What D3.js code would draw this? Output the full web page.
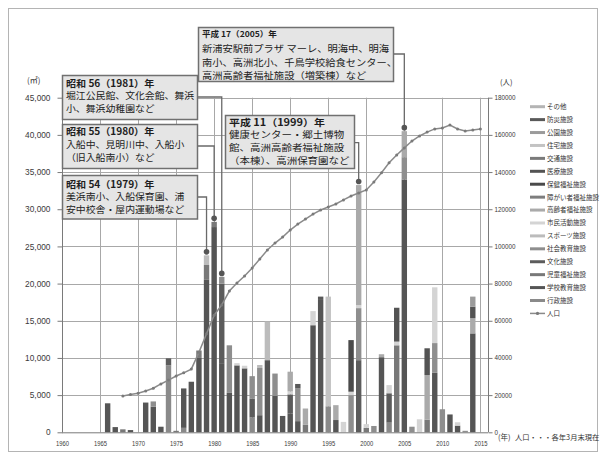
<!DOCTYPE html>
<html lang="ja">
<head>
<meta charset="utf-8">
<script src="https://cdn.jsdelivr.net/npm/d3@7"></script>
<style>
  html, body { margin: 0; padding: 0; background: #fff; }
  svg { display: block; }
  .jp { font-family: "Noto Sans CJK JP", "Noto Sans", sans-serif; }
  .num { font-family: "Liberation Sans", Arial, sans-serif; }
</style>
</head>
<body>
<svg id="chart" width="606" height="459"></svg>
<script>
// 公共施設の年度別整備延床面積（㎡）と人口の推移

const years = [
  1965, 1966, 1967, 1968, 1969, 1970, 1971, 1972, 1973, 1974,
  1975, 1976, 1977, 1978, 1979, 1980, 1981, 1982, 1983, 1984,
  1985, 1986, 1987, 1988, 1989, 1990, 1991, 1992, 1993, 1994,
  1995, 1996, 1997, 1998, 1999, 2000, 2001, 2002, 2003, 2004,
  2005, 2006, 2007, 2008, 2009, 2010, 2011, 2012, 2013, 2014
];

// 施設分類（積み上げの下から順）
const categories = [
  "行政施設", "学校教育施設", "児童福祉施設", "文化施設", "社会教育施設",
  "スポーツ施設", "市民活動施設", "高齢者福祉施設", "障がい者福祉施設",
  "保健福祉施設", "医療施設", "交通施設", "住宅施設", "公園施設", "防災施設", "その他"
];

const gyosei = [
  0, 0, 0, 0, 0, 0, 0, 0, 0, 9000,
  0, 600, 0, 0, 0, 0, 0, 0, 0, 0,
  2000, 0, 0, 0, 0, 0, 0, 0, 0, 0,
  3500, 0, 0, 0, 0, 0, 0, 0, 1300, 0,
  0, 0, 0, 0, 0, 0, 0, 0, 0, 0
];
const gakko = [
  0, 3900, 700, 0, 300, 0, 4000, 3450, 750, 0,
  0, 5300, 6800, 10000, 20500, 27600, 9300, 5300, 9000, 8600,
  0, 2300, 9700, 4900, 2200, 2500, 1500, 0, 14400, 17800,
  0, 1650, 0, 0, 0, 0, 0, 10100, 0, 0,
  34000, 0, 0, 0, 8000, 0, 2400, 900, 0, 13300
];
const jido = [
  0, 0, 0, 400, 0, 0, 0, 0, 0, 0,
  200, 0, 0, 1000, 2000, 700, 0, 0, 0, 0,
  0, 0, 0, 0, 0, 0, 0, 1000, 0, 0,
  0, 0, 0, 0, 0, 600, 0, 0, 0, 11700,
  0, 0, 0, 1700, 0, 0, 0, 0, 0, 0
];
const bunka = [
  0, 0, 0, 0, 0, 0, 0, 0, 0, 950,
  0, 0, 0, 0, 0, 0, 10700, 0, 0, 0,
  2500, 0, 0, 0, 0, 2600, 0, 0, 0, 0,
  0, 0, 0, 0, 9700, 0, 0, 0, 3950, 0,
  0, 0, 0, 0, 0, 0, 0, 0, 0, 0
];
const shakaiKyoiku = [
  0, 0, 0, 0, 0, 0, 0, 700, 0, 0,
  0, 0, 0, 0, 0, 0, 900, 6400, 0, 0,
  3050, 6350, 0, 3000, 0, 0, 4400, 0, 0, 0,
  0, 0, 0, 5000, 7000, 0, 850, 0, 0, 0,
  3000, 750, 0, 0, 4000, 3100, 0, 0, 200, 0
];
const sports = [
  0, 0, 0, 0, 0, 0, 0, 0, 0, 0,
  0, 0, 0, 0, 1300, 0, 0, 0, 0, 0,
  0, 400, 5200, 0, 0, 0, 0, 0, 0, 0,
  0, 0, 0, 0, 0, 0, 0, 0, 0, 0,
  0, 0, 0, 0, 0, 0, 0, 0, 0, 0
];
const shimin = [
  0, 0, 0, 0, 0, 0, 0, 0, 0, 0,
  0, 0, 0, 0, 0, 0, 0, 0, 300, 350,
  0, 0, 0, 0, 0, 400, 0, 0, 1900, 0,
  0, 0, 1400, 460, 400, 500, 0, 0, 1100, 500,
  0, 0, 1750, 0, 7500, 0, 0, 450, 0, 0
];
const koreisha = [
  0, 0, 0, 0, 0, 0, 0, 0, 0, 0,
  0, 0, 0, 0, 0, 0, 0, 0, 0, 0,
  0, 0, 0, 0, 0, 2650, 0, 2200, 0, 0,
  0, 2000, 0, 0, 16150, 0, 0, 400, 0, 0,
  3500, 0, 0, 6000, 0, 0, 0, 0, 0, 2050
];
const shogaisha = [
  0, 0, 0, 0, 0, 0, 0, 0, 0, 0,
  0, 0, 0, 0, 0, 0, 0, 0, 0, 0,
  0, 0, 0, 0, 0, 0, 0, 0, 0, 0,
  0, 0, 0, 0, 0, 0, 0, 0, 0, 0,
  0, 0, 0, 0, 0, 0, 0, 0, 0, 0
];
const hoken = [
  0, 0, 0, 0, 0, 0, 0, 0, 0, 0,
  0, 0, 0, 0, 0, 0, 0, 0, 0, 0,
  0, 0, 0, 0, 0, 0, 0, 0, 0, 0,
  0, 0, 0, 6940, 0, 0, 0, 0, 0, 0,
  0, 0, 0, 0, 0, 0, 0, 0, 0, 0
];
const iryo = [
  0, 0, 0, 0, 0, 0, 0, 0, 0, 0,
  0, 0, 0, 0, 0, 0, 0, 0, 0, 0,
  0, 0, 0, 0, 0, 0, 0, 0, 0, 0,
  0, 0, 0, 0, 0, 0, 0, 0, 0, 4550,
  0, 0, 0, 3600, 0, 0, 0, 0, 0, 1550
];
const kotsu = [
  0, 0, 0, 0, 0, 0, 0, 0, 0, 0,
  0, 0, 0, 0, 0, 0, 0, 0, 0, 0,
  0, 0, 0, 0, 0, 0, 0, 0, 0, 0,
  0, 0, 0, 0, 0, 0, 0, 0, 0, 0,
  0, 0, 0, 0, 0, 0, 0, 0, 0, 0
];
const jutaku = [
  0, 0, 0, 0, 0, 0, 0, 0, 0, 0,
  0, 0, 0, 0, 0, 0, 0, 0, 0, 0,
  0, 0, 0, 0, 0, 0, 0, 0, 0, 0,
  14750, 0, 0, 0, 0, 0, 0, 0, 0, 0,
  0, 0, 0, 0, 0, 0, 0, 0, 0, 0
];
const koen = [
  0, 0, 0, 0, 0, 0, 0, 0, 0, 0,
  0, 0, 0, 0, 0, 0, 0, 0, 0, 0,
  0, 0, 0, 0, 0, 0, 0, 0, 0, 0,
  0, 0, 0, 0, 0, 0, 0, 0, 0, 0,
  0, 0, 0, 0, 0, 0, 0, 0, 0, 1350
];
const bosai = [
  0, 0, 0, 0, 0, 0, 0, 0, 0, 0,
  0, 0, 0, 0, 0, 0, 0, 0, 0, 0,
  0, 0, 0, 0, 0, 0, 600, 0, 0, 450,
  0, 0, 0, 0, 0, 0, 0, 0, 0, 0,
  0, 0, 0, 0, 0, 0, 0, 0, 0, 0
];
const sonota = [
  0, 0, 0, 0, 0, 0, 0, 0, 0, 0,
  0, 0, 0, 0, 0, 0, 0, 0, 0, 0,
  0, 0, 0, 0, 0, 0, 0, 0, 0, 0,
  0, 0, 0, 0, 0, 0, 0, 0, 0, 0,
  0, 0, 0, 0, 0, 0, 0, 0, 0, 0
];

const seriesValues = [
  gyosei, gakko, jido, bunka, shakaiKyoiku, sports, shimin, koreisha,
  shogaisha, hoken, iryo, kotsu, jutaku, koen, bosai, sonota
];

const seriesColors = [
  "#8a8a8a", "#555555", "#787878", "#5c5c5c", "#8e8e8e", "#bcbcbc", "#d4d4d4", "#aaaaaa",
  "#7e7e7e", "#4a4a4a", "#535353", "#7a7a7a", "#c3c3c3", "#9b9b9b", "#595959", "#b4b4b4"
];

// 人口（各年3月末現在）
const popYears = [
  1968, 1969, 1970, 1971, 1972, 1973, 1974, 1975, 1976, 1977,
  1978, 1979, 1980, 1981, 1982, 1983, 1984, 1985, 1986, 1987,
  1988, 1989, 1990, 1991, 1992, 1993, 1994, 1995, 1996, 1997,
  1998, 1999, 2000, 2001, 2002, 2003, 2004, 2005, 2006, 2007,
  2008, 2009, 2010, 2011, 2012, 2013, 2014, 2015
];
const population = [
  19500, 20300, 21000, 22200, 23700, 26000, 28100, 30300, 32000, 34000,
  43000, 53000, 63000, 68500, 76000, 80300, 84100, 88400, 93200, 98100,
  101800, 105000, 108800, 112000, 114700, 117400, 119600, 121200, 122800, 125000,
  127100, 128700, 130400, 134700, 139600, 145000, 149200, 153000, 156700, 159400,
  161500, 163200, 163700, 165300, 163200, 162100, 162600, 163200
];

// 軸目盛
const areaTicks = [0, 5000, 10000, 15000, 20000, 25000, 30000, 35000, 40000, 45000];
const popTicks = [0, 20000, 40000, 60000, 80000, 100000, 120000, 140000, 160000, 180000];
const yearTicks = [1960, 1965, 1970, 1975, 1980, 1985, 1990, 1995, 2000, 2005, 2010, 2015];

// 注記（整備の多い年）
const notes = [
  { year: 1981, title: "昭和 56（1981）年", lines: ["堀江公民館、文化会館、舞浜", "小、舞浜幼稚園など"] },
  { year: 1980, title: "昭和 55（1980）年", lines: ["入船中、見明川中、入船小", "（旧入船南小）など"] },
  { year: 1979, title: "昭和 54（1979）年", lines: ["美浜南小、入船保育園、浦", "安中校舎・屋内運動場など"] },
  { year: 2005, title: "平成 17（2005）年", lines: ["新浦安駅前プラザ マーレ、明海中、明海", "南小、高洲北小、千鳥学校給食センター、", "高洲高齢者福祉施設（増築棟）など"] },
  { year: 1999, title: "平成 11（1999）年", lines: ["健康センター・郷土博物", "館、高洲高齢者福祉施設", "（本棟）、高洲保育園など"] }
];

// ---- 描画 ----
const svg = d3.select("#chart");

// 外枠
svg.append("rect")
  .attr("x", 8.5).attr("y", 8.5).attr("width", 589).attr("height", 443)
  .attr("fill", "#fff").attr("stroke", "#b4b4b4").attr("stroke-width", 1);

const plot = { left: 62, right: 488, top: 97.7, bottom: 432.3 };

const x = d3.scaleLinear().domain([1960, 2016]).range([plot.left, plot.right]);
const yArea = d3.scaleLinear().domain([0, 45000]).range([plot.bottom, plot.top]);
const yPop = d3.scaleLinear().domain([0, 180000]).range([plot.bottom, plot.top]);

// 格子線
const grid = svg.append("g");
grid.selectAll("line.h").data(areaTicks.filter(d => d > 0)).join("line")
  .attr("x1", plot.left).attr("x2", plot.right)
  .attr("y1", d => Math.round(yArea(d)) + 0.5).attr("y2", d => Math.round(yArea(d)) + 0.5)
  .attr("stroke", "#a8a8a8").attr("stroke-width", 1);
grid.selectAll("line.v").data(yearTicks.filter(d => d > 1960)).join("line")
  .attr("x1", d => Math.round(x(d)) + 0.5).attr("x2", d => Math.round(x(d)) + 0.5)
  .attr("y1", plot.top).attr("y2", plot.bottom)
  .attr("stroke", "#a8a8a8").attr("stroke-width", 1);

// 積み上げ棒
const table = years.map((yr, i) => {
  const row = { year: yr };
  categories.forEach((c, k) => { row[c] = seriesValues[k][i]; });
  return row;
});
const stacked = d3.stack().keys(categories)(table);
const barW = 5.4;

svg.append("g").selectAll("g").data(stacked).join("g")
  .attr("fill", (d, k) => seriesColors[k])
  .selectAll("rect").data(d => d.filter(p => p[1] > p[0])).join("rect")
  .attr("x", d => x(d.data.year) - barW / 2)
  .attr("width", barW)
  .attr("y", d => yArea(d[1]))
  .attr("height", d => yArea(d[0]) - yArea(d[1]));

// 軸
const axisColor = "#7a7a7a";
svg.append("line").attr("x1", plot.left + 0.5).attr("x2", plot.left + 0.5)
  .attr("y1", plot.top).attr("y2", plot.bottom).attr("stroke", axisColor);
svg.append("line").attr("x1", plot.right + 0.5).attr("x2", plot.right + 0.5)
  .attr("y1", plot.top).attr("y2", plot.bottom).attr("stroke", axisColor);
svg.append("line").attr("x1", plot.left).attr("x2", plot.right)
  .attr("y1", plot.bottom + 0.5).attr("y2", plot.bottom + 0.5).attr("stroke", axisColor);

const leftAxis = svg.append("g")
  .attr("transform", `translate(${plot.left + 0.5},0)`)
  .call(d3.axisLeft(yArea).tickValues(areaTicks).tickSize(5).tickPadding(7)
    .tickFormat(d => d3.format(",")(d)));
leftAxis.select(".domain").remove();
leftAxis.selectAll("line").attr("stroke", axisColor);
leftAxis.selectAll("text").attr("class", "num").attr("font-size", 8.3).attr("fill", "#3a3a3a");

const rightAxis = svg.append("g")
  .attr("transform", `translate(${plot.right + 0.5},0)`)
  .call(d3.axisRight(yPop).tickValues(popTicks).tickSize(4).tickPadding(2)
    .tickFormat(d => String(d)));
rightAxis.select(".domain").remove();
rightAxis.selectAll("line").attr("stroke", axisColor);
rightAxis.selectAll("text").attr("class", "num").attr("font-size", 6.3).attr("fill", "#3a3a3a");

const bottomAxis = svg.append("g")
  .attr("transform", `translate(0,${plot.bottom + 0.5})`)
  .call(d3.axisBottom(x).tickValues(yearTicks).tickSize(0).tickPadding(8)
    .tickFormat(d => String(d)));
bottomAxis.select(".domain").remove();
bottomAxis.selectAll("text").attr("class", "num").attr("font-size", 8).attr("fill", "#3a3a3a")
  .attr("textLength", 13).attr("lengthAdjust", "spacingAndGlyphs");

// 人口の折れ線
const popData = popYears.map((yr, i) => ({ year: yr, value: population[i] }));
svg.append("path").datum(popData)
  .attr("fill", "none").attr("stroke", "#8a8a8a").attr("stroke-width", 1.5)
  .attr("d", d3.line().x(d => x(d.year)).y(d => yPop(d.value)));
svg.append("g").selectAll("circle").data(popData).join("circle")
  .attr("cx", d => x(d.year)).attr("cy", d => yPop(d.value)).attr("r", 1.5)
  .attr("fill", "#7a7a7a");

// 単位など
svg.append("text").attr("class", "jp").attr("x", 27).attr("y", 83)
  .attr("font-size", 8).attr("fill", "#333").text("(㎡)");
svg.append("text").attr("class", "jp").attr("x", 500).attr("y", 84.5)
  .attr("font-size", 7.5).attr("fill", "#333").text("(人)");
svg.append("text").attr("class", "jp").attr("x", 498).attr("y", 439.5)
  .attr("font-size", 7.5).attr("fill", "#333").text("(年)");
svg.append("text").attr("class", "jp").attr("x", 515).attr("y", 439.5)
  .attr("font-size", 7.3).attr("fill", "#333").text("人口・・・各年3月末現在");

// 凡例
const legendItems = categories.map((c, k) => ({ name: c, color: seriesColors[k] })).reverse();
const legend = svg.append("g");
const lgY0 = 106.7, lgStep = 12.92;
legendItems.forEach((it, i) => {
  const yy = lgY0 + i * lgStep;
  legend.append("line").attr("x1", 530).attr("x2", 545).attr("y1", yy).attr("y2", yy)
    .attr("stroke", it.color).attr("stroke-width", 3);
  legend.append("text").attr("class", "jp").attr("x", 547).attr("y", yy + 2.4)
    .attr("font-size", 6.5).attr("fill", "#333").text(it.name);
});
{
  const yy = lgY0 + legendItems.length * lgStep;
  legend.append("line").attr("x1", 530).attr("x2", 545).attr("y1", yy).attr("y2", yy)
    .attr("stroke", "#8a8a8a").attr("stroke-width", 1.5);
  legend.append("circle").attr("cx", 537.5).attr("cy", yy).attr("r", 1.6).attr("fill", "#7a7a7a");
  legend.append("text").attr("class", "jp").attr("x", 547).attr("y", yy + 2.4)
    .attr("font-size", 6.5).attr("fill", "#333").text("人口");
}

// 注記ボックスと引出線
const totals = years.map((yr, i) => d3.sum(seriesValues, s => s[i]));
const totalOf = yr => totals[years.indexOf(yr)];

// 箱の位置・文字の大きさ（title: 見出し行の基線, first: 本文1行目の基線, gap: 行送り）
const boxes = [
  { x: 62, y: 75, w: 135, h: 44, title: 12.3, first: 24.5, gap: 12.4, tSize: 9.6, bSize: 9.4, sx: 1.05, joinY: 97 },
  { x: 62, y: 124, w: 135, h: 44, title: 11.5, first: 24.5, gap: 12.4, tSize: 9.6, bSize: 9.4, sx: 1.05, joinY: 146 },
  { x: 62, y: 175, w: 135, h: 43.5, title: 12.6, first: 25.2, gap: 12.6, tSize: 9.6, bSize: 9.4, sx: 1.05, joinY: 197 },
  { x: 198, y: 27, w: 195, h: 54, title: 9.8, first: 25.2, gap: 13.4, tSize: 8, bSize: 9.6, sx: 1.07, joinY: 54 },
  { x: 225, y: 115, w: 129, h: 53, title: 10.6, first: 23.0, gap: 12.8, tSize: 9.6, bSize: 9.2, sx: 1.14, joinY: 142.7 }
];

const leaders = svg.append("g");
notes.forEach((n, i) => {
  const b = boxes[i];
  const bx = x(n.year);
  const topY = yArea(totalOf(n.year)) - 3.5;
  leaders.append("path")
    .attr("d", `M${b.x + b.w},${b.joinY}H${bx}V${topY}`)
    .attr("fill", "none").attr("stroke", "#6a6a6a").attr("stroke-width", 1.3);
  leaders.append("circle").attr("cx", bx).attr("cy", topY).attr("r", 2.8).attr("fill", "#555");
});

const noteG = svg.append("g");
notes.forEach((n, i) => {
  const b = boxes[i];
  noteG.append("rect").attr("x", b.x + 0.5).attr("y", b.y + 0.5)
    .attr("width", b.w).attr("height", b.h)
    .attr("fill", "#e5e5e5").attr("stroke", "#707070").attr("stroke-width", 1.5);
  const g = noteG.append("g")
    .attr("transform", `translate(${b.x + 4},${b.y}) scale(${b.sx},1)`);
  g.append("text").attr("class", "jp").attr("x", 0).attr("y", b.title)
    .attr("font-size", b.tSize).attr("font-weight", "bold").attr("fill", "#1e1e1e")
    .text(n.title);
  n.lines.forEach((ln, j) => {
    g.append("text").attr("class", "jp").attr("x", 0).attr("y", b.first + j * b.gap)
      .attr("font-size", b.bSize).attr("fill", "#222").text(ln);
  });
});
</script>
</body>
</html>
